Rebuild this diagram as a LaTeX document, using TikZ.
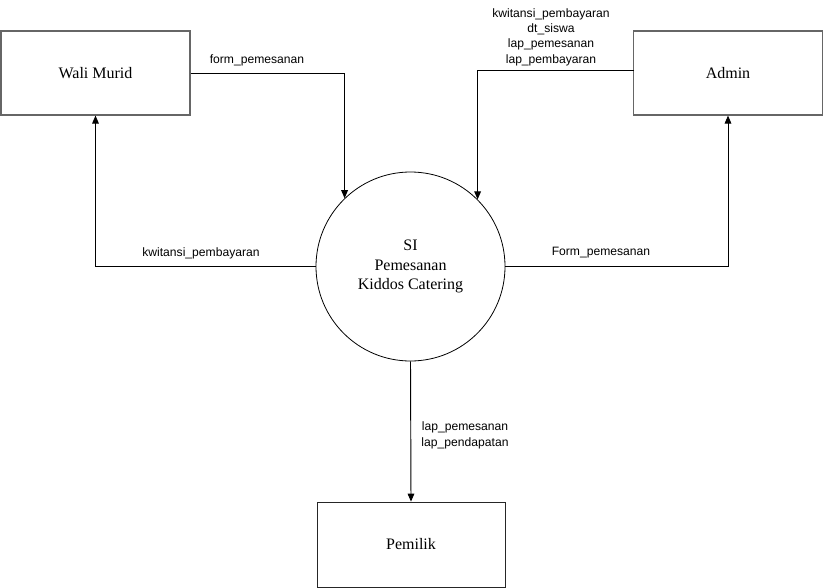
\documentclass[tikz,border=0pt]{standalone}
\usepackage{fontspec}
\setmainfont{Liberation Serif}
\newfontfamily\lblfont{Liberation Sans}
\usetikzlibrary{arrows.meta}
\begin{document}
\begin{tikzpicture}[x=0.75pt,y=-0.75pt,
  entity/.style={draw=gray!80!black,line width=0.9pt,minimum width=141.75pt,minimum height=63pt,inner sep=0pt,font=\fontsize{12}{14}\selectfont},
  proc/.style={draw=black,line width=0.6pt,circle,minimum size=141.75pt,inner sep=0pt,align=center,font=\fontsize{12}{14.6}\selectfont},
  flow/.style={draw=black,line width=0.7pt,-{Triangle[length=6pt,width=5pt]}},
  lbl/.style={font=\lblfont\fontsize{9.1}{11.5}\selectfont,align=center,inner sep=0pt}]
\useasboundingbox[fill=white] (0,0) rectangle (824,588);
\node[entity] (w) at (95.5,73) {Wali Murid};
\node[entity] (a) at (728,73) {Admin};
\node[proc] (c) at (410.5,266.5) {SI\\Pemesanan\\Kiddos Catering};
\node[entity,draw=black!85,line width=0.6pt,minimum width=141pt,minimum height=63.75pt] (p) at (411,544.5) {Pemilik};
\coordinate (aw) at (634,70.5);
\draw[flow] (w.east) -| (c.134.7);
\draw[flow] (aw) -| (c.45.3);
\draw[flow] (c.west) -| (w.south);
\draw[flow] (c.east) -| (a.south);
\draw[flow] (c.south) -- (p.north);
\node[lbl] (l1) at (257,60) {form\_pemesanan};
\node[lbl] (l2) at (551,37) {kwitansi\_pembayaran\\dt\_siswa\\lap\_pemesanan\\lap\_pembayaran};
\node[lbl] (l3) at (201,253) {kwitansi\_pembayaran};
\node[lbl] (l4) at (601,253) {Form\_pemesanan};
\node[lbl] (l5) at (465,435.5) {lap\_pemesanan\\lap\_pendapatan};
\end{tikzpicture}
\end{document}
